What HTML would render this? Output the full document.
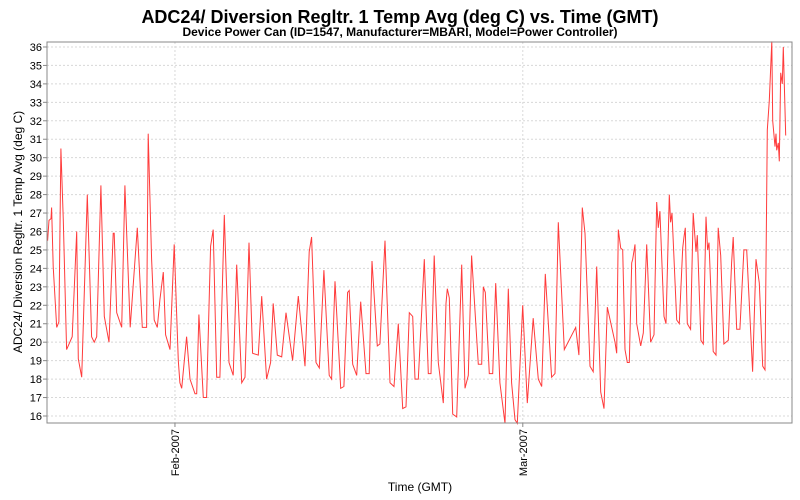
<!DOCTYPE html>
<html><head><meta charset="utf-8"><style>
body{margin:0;background:#fff;}
svg{display:block;font-family:"Liberation Sans",sans-serif;}
</style></head><body>
<svg id="chart" width="800" height="500" viewBox="0 0 800 500" xmlns="http://www.w3.org/2000/svg">
<rect width="800" height="500" fill="#fff"/>
<text x="400" y="23" text-anchor="middle" font-size="18" font-weight="bold">ADC24/ Diversion Regltr. 1 Temp Avg (deg C) vs. Time (GMT)</text>
<text x="400" y="36" text-anchor="middle" font-size="12" font-weight="bold">Device Power Can (ID=1547, Manufacturer=MBARI, Model=Power Controller)</text>
<text transform="translate(22,232) rotate(-90)" text-anchor="middle" font-size="12">ADC24/ Diversion Regltr. 1 Temp Avg (deg C)</text>
<text x="420" y="491" text-anchor="middle" font-size="12">Time (GMT)</text>
<g id="grid"></g>
<g id="yticks"></g>
<g id="xticks"></g>
<path id="series" fill="none" stroke="#ff3b3b" stroke-width="1"/>
<rect x="47" y="42" width="745" height="381" fill="none" stroke="#888"/>
</svg>
<script>
// days relative to 2007-02-01 00:00 GMT
const days = [-10.25,-10.14,-9.98,-9.93,-9.80,-9.52,-9.34,-9.18,-8.99,-8.72,-8.27,-7.91,-7.78,-7.51,-7.06,-6.71,-6.50,-6.30,-5.96,-5.69,-5.31,-4.97,-4.89,-4.69,-4.29,-4.03,-3.60,-3.03,-2.63,-2.28,-2.15,-1.88,-1.67,-1.42,-1.21,-0.94,-0.75,-0.40,-0.06,0.27,0.40,0.54,0.94,1.21,1.61,1.75,1.93,2.28,2.55,2.87,3.08,3.36,3.62,3.97,4.35,4.69,4.97,5.37,5.64,5.96,6.25,6.71,6.98,7.38,7.70,7.91,8.24,8.59,8.94,9.47,9.93,10.47,10.81,11.00,11.35,11.62,11.99,12.42,12.61,12.88,13.34,13.60,13.90,14.03,14.31,14.63,14.95,15.38,15.64,15.86,16.29,16.50,16.91,17.31,17.63,17.98,18.33,18.60,18.86,19.14,19.32,19.59,20.07,20.39,20.61,20.87,21.20,21.60,21.82,21.92,22.08,22.36,22.68,23.08,23.35,23.61,23.88,24.42,24.69,24.82,24.98,25.30,25.58,25.82,26.16,26.57,26.83,27.10,27.37,27.56,27.99,28.36,28.84,29.25,29.52,29.81,30.32,30.59,30.86,31.34,32.26,32.52,32.79,33.01,33.41,33.67,33.95,34.27,34.54,34.80,35.42,35.56,35.69,35.88,36.04,36.23,36.41,36.57,36.77,36.85,37.03,37.17,37.49,37.70,37.97,38.29,38.56,38.78,38.91,39.04,39.37,39.53,39.79,39.90,40.01,40.39,40.60,40.87,40.98,41.08,41.24,41.51,41.72,41.94,42.05,42.34,42.53,42.75,42.88,42.99,43.33,43.55,43.73,43.93,44.19,44.54,44.81,44.94,45.22,45.48,45.80,46.02,46.50,46.77,47.04,47.31,47.50,47.68,47.84,48.04,48.12,48.30,48.38,48.44,48.57,48.65,48.76,48.89,48.97,49.16];
const temps = [25.5,26.6,26.7,27.3,24.1,20.8,21.1,30.5,26.6,19.6,20.3,26.0,19.1,18.1,28.0,20.3,20.0,20.3,28.5,21.4,20.0,25.9,25.9,21.6,20.8,28.5,20.8,26.2,20.8,20.8,31.3,24.5,21.2,20.8,22.3,23.8,20.4,19.6,25.3,19.0,17.8,17.5,20.3,18.0,17.2,17.2,21.5,17.0,17.0,25.2,26.1,18.1,18.1,26.9,18.9,18.2,24.2,17.8,18.1,25.4,19.4,19.3,22.5,18.0,18.9,22.1,19.3,19.2,21.6,19.0,22.5,18.7,24.9,25.7,18.9,18.6,23.9,18.2,18.0,23.3,17.5,17.6,22.7,22.8,18.8,18.2,22.2,18.3,18.3,24.4,19.8,19.9,25.5,17.8,17.6,21.0,16.4,16.5,21.6,21.4,18.0,18.0,24.5,18.3,18.3,24.7,18.9,16.7,22.1,22.9,22.4,16.1,15.95,24.2,17.5,18.2,24.7,18.8,18.8,23.0,22.7,18.3,18.3,23.2,17.8,15.6,22.9,17.8,15.8,15.6,22.0,16.7,21.3,18.0,17.6,23.7,18.1,18.3,26.5,19.6,20.8,19.3,27.3,25.9,18.7,18.4,24.1,17.3,16.4,21.9,20.0,19.4,26.1,25.1,25.0,19.6,18.9,18.9,24.3,24.5,25.3,21.0,19.8,20.5,25.3,20.0,20.4,27.6,26.2,27.1,21.4,21.0,28.0,26.5,27.0,21.2,21.0,25.1,25.7,26.2,21.0,20.7,27.0,24.9,25.8,20.1,19.9,26.8,25.0,25.4,19.5,19.3,26.2,24.7,19.9,20.1,24.3,25.7,20.7,20.7,25.0,25.0,18.4,24.5,23.2,18.7,18.5,31.5,33.1,36.3,32.0,30.6,31.3,30.4,30.8,29.8,34.6,34.0,36.0,31.2];
const yTicks = [16,17,18,19,20,21,22,23,24,25,26,27,28,29,30,31,32,33,34,35,36];
const xTickDays = [0,28];
const xTickLabels = ["Feb-2007","Mar-2007"];

const L=47,R=792,T=42,B=423;
const dMin=-10.30,dMax=49.67,vMin=15.62,vMax=36.27;
const xs=d=>L+(d-dMin)/(dMax-dMin)*(R-L);
const ys=v=>B-(v-vMin)/(vMax-vMin)*(B-T);
const NS="http://www.w3.org/2000/svg";
const grid=document.getElementById('grid'),yt=document.getElementById('yticks'),xt=document.getElementById('xticks');
function mk(tag,attrs,parent){const e=document.createElementNS(NS,tag);for(const k in attrs)e.setAttribute(k,attrs[k]);parent.appendChild(e);return e;}
yTicks.forEach(v=>{
  const y=ys(v);
  const g=mk('line',{x1:L,x2:R,y1:y,y2:y,stroke:'#d8d8d8','stroke-dasharray':'2,2'},grid);
  
  
  const t=mk('line',{x1:L-4,x2:L,y1:y,y2:y,stroke:'#888'},yt);
  
  
  const l=mk('text',{x:L-5,y:y+4,'text-anchor':'end','font-size':'11'},yt);
  l.textContent=v;
  
  
});
xTickDays.forEach((d,i)=>{
  const x=xs(d);
  const g=mk('line',{x1:x,x2:x,y1:T,y2:B,stroke:'#d8d8d8','stroke-dasharray':'2,2'},grid);
  
  
  const t=mk('line',{x1:x,x2:x,y1:B,y2:B+4,stroke:'#888'},xt);
  
  
  const l=mk('text',{transform:`translate(${x+4},${B+6}) rotate(-90)`,'text-anchor':'end','font-size':'11'},xt);
  l.textContent=xTickLabels[i];
  
  
});
document.getElementById('series').setAttribute('d',days.map((d,i)=>(i?'L':'M')+xs(d).toFixed(1)+','+ys(temps[i]).toFixed(1)).join(''));
</script>
</body></html>
